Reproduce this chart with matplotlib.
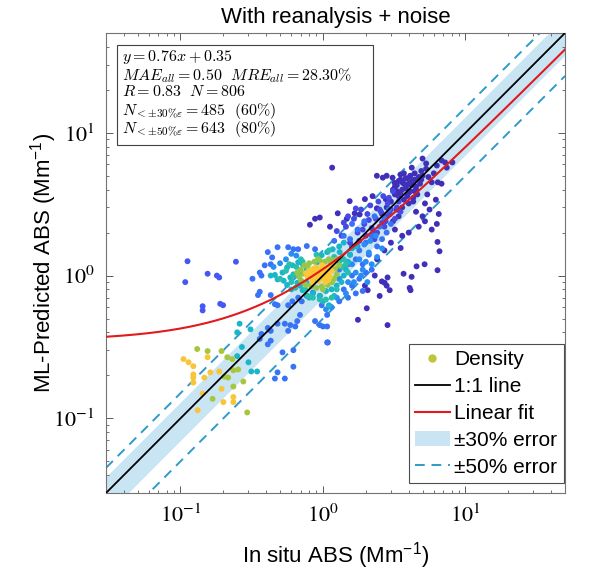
import numpy as np
import matplotlib
matplotlib.use("Agg")
import matplotlib.pyplot as plt
from matplotlib.colors import LinearSegmentedColormap
from matplotlib.lines import Line2D
from matplotlib.patches import Patch, Rectangle
from matplotlib.ticker import LogLocator, NullFormatter

plt.rcParams['font.family'] = ['Liberation Sans', 'DejaVu Sans']
plt.rcParams['mathtext.fontset'] = 'custom'
plt.rcParams['mathtext.rm'] = 'Liberation Sans'
plt.rcParams['mathtext.it'] = 'Liberation Sans:italic'
plt.rcParams['mathtext.bf'] = 'Liberation Sans:bold'

# ---- data (in situ x, predicted y), grouped by density colour ----
core_x = [0.78, 0.82, 0.85, 0.88, 0.90, 0.92, 0.95, 0.97, 1.00, 1.02, 1.05, 1.08, 1.10, 1.12, 0.86,
          0.93, 0.99, 1.04, 0.80, 0.90, 1.15, 0.96, 1.06, 0.84, 1.00, 0.89, 1.09, 0.94, 1.18, 0.76]
core_y = [0.98, 1.02, 0.95, 1.05, 0.99, 1.08, 1.00, 1.10, 1.03, 0.95, 1.12, 1.05, 1.15, 0.98, 1.12,
          0.92, 1.18, 0.90, 1.08, 1.14, 1.08, 0.96, 1.00, 0.90, 1.10, 1.00, 0.93, 1.04, 1.20, 1.04]

ring_x = [0.68, 0.70, 0.72, 0.74, 0.76, 0.80, 0.83, 0.87, 0.90, 0.95, 0.98, 1.03, 1.08, 1.13,
          1.20, 1.22, 1.26, 1.16, 0.66, 0.73, 1.30, 1.25, 1.10, 0.78, 0.70, 1.18, 0.92, 1.00]
ring_y = [0.98, 1.10, 0.90, 1.18, 0.86, 1.22, 0.84, 1.25, 0.82, 1.28, 0.84, 1.25, 0.86, 1.22,
          0.95, 1.12, 1.30, 0.90, 1.05, 1.03, 1.18, 1.02, 1.30, 1.15, 0.93, 1.28, 1.30, 0.80]

cyan_x = [0.43, 0.46, 0.48, 0.53, 0.56, 0.59, 0.62, 0.66, 0.69, 0.72, 0.77, 0.85, 0.56, 0.61, 0.67,
          0.72, 0.77, 0.84, 0.91, 0.98, 1.07, 1.17, 1.31, 0.85, 0.95, 1.05, 1.15, 1.25, 1.35, 1.40,
          1.45, 1.50, 1.55, 1.60, 1.30, 1.40, 1.70, 1.20, 1.00, 0.80, 1.10, 0.60, 0.52, 0.26, 0.25,
          0.31, 0.27, 0.30, 0.314, 0.345, 0.25]
cyan_y = [1.00, 1.01, 0.94, 0.92, 0.86, 0.97, 1.02, 0.89, 0.85, 0.79, 0.89, 0.92, 1.14, 1.18, 1.24,
          1.20, 1.10, 1.05, 1.24, 1.39, 1.46, 1.53, 1.46, 0.75, 0.72, 0.78, 0.80, 0.85, 0.90, 1.00,
          1.10, 1.25, 1.40, 1.55, 1.60, 1.70, 1.60, 0.72, 0.66, 0.70, 0.62, 0.80, 1.05, 0.46, 0.40,
          0.42, 0.316, 0.247, 0.213, 0.213, 0.273]

cyan2_x = [0.50, 0.55, 0.60, 0.65, 0.70, 0.75, 0.62, 0.68, 0.58, 0.64, 1.20, 1.30, 1.35, 1.25,
           1.40, 1.15, 1.05, 0.95, 0.85, 0.78, 1.45, 1.50, 1.10, 0.90, 0.72]
cyan2_y = [0.95, 1.08, 0.90, 1.15, 1.30, 0.80, 1.00, 1.05, 1.20, 0.82, 1.35, 1.25, 1.15, 0.80,
           1.30, 0.70, 0.68, 0.68, 0.70, 0.72, 1.20, 1.05, 1.50, 1.40, 1.25]

blue2_x = [1.3, 1.4, 1.5, 1.6, 1.7, 1.8, 1.9, 2.0, 2.1, 2.2, 2.4, 2.6, 1.35, 1.55, 1.75, 1.95,
           2.15, 2.35, 1.45, 1.65, 1.85, 2.05, 1.25, 1.15, 1.05, 0.55, 0.6, 0.65, 0.5, 0.45]
blue2_y = [0.95, 1.15, 0.9, 1.2, 1.05, 1.3, 1.1, 1.25, 1.45, 1.2, 1.35, 1.55, 1.3, 1.4, 1.6, 1.65,
           1.75, 1.9, 0.75, 0.9, 1.0, 0.9, 0.7, 0.6, 0.58, 1.3, 1.42, 1.38, 1.22, 1.15]

blue_x = [0.41, 0.44, 0.48, 0.57, 0.62, 0.67, 0.77, 0.88, 0.37, 0.36, 0.39, 0.43, 0.32, 0.35, 0.36,
          0.43, 0.46, 0.48, 0.57, 0.61, 0.67, 0.71, 0.77, 0.85, 0.95, 0.98, 1.07, 1.12, 0.95, 1.07,
          0.88, 0.69, 0.66, 0.64, 0.59, 0.57, 0.54, 0.48, 0.43, 0.41, 0.37, 0.36, 0.43, 0.41, 0.52,
          0.62, 0.62, 0.54, 0.48, 0.46, 1.07, 1.00,
          1.3, 1.5, 1.6, 1.7, 1.8, 1.9, 2.0, 2.1, 2.2, 2.4, 2.5, 2.6, 2.8, 1.4, 1.6, 1.8, 2.0, 2.2,
          1.5, 1.7, 1.9, 1.3, 1.55, 1.75, 1.95, 2.3, 2.7, 3.0, 2.9, 1.6, 1.4, 1.2]
blue_y = [1.46, 1.34, 1.58, 1.58, 1.53, 1.53, 1.61, 1.53, 1.00, 1.05, 1.18, 1.20, 0.95, 0.73, 0.77,
          0.73, 0.63, 0.62, 0.62, 0.66, 0.70, 0.66, 0.72, 0.76, 0.72, 0.62, 0.53, 0.61, 0.45, 0.44,
          0.48, 0.53, 0.48, 0.44, 0.45, 0.41, 0.46, 0.46, 0.41, 0.43, 0.39, 0.36, 0.35, 0.33, 0.29,
          0.30, 0.23, 0.19, 0.21, 0.19, 0.34, 0.44,
          1.1, 1.2, 1.0, 1.3, 1.5, 1.2, 1.7, 1.4, 1.9, 1.6, 2.2, 1.8, 2.0, 0.8, 0.85, 0.95, 1.05, 1.1,
          0.7, 0.75, 0.78, 0.66, 1.8, 2.1, 2.4, 2.6, 2.5, 2.3, 2.9, 2.3, 1.9, 1.75]

mid_x = [1.35, 1.45, 1.55, 1.65, 1.75, 1.85, 1.95, 2.05, 2.15, 2.25, 2.35, 2.45, 2.55, 2.65, 2.75,
         2.85, 2.95, 3.1, 3.3, 3.5, 1.5, 1.7, 1.9, 2.1, 2.3, 2.5, 2.7, 2.9, 3.2, 3.4,
         1.6, 1.8, 2.0, 2.2, 2.4, 2.6, 2.8, 3.0, 1.4, 1.25]
mid_y = [1.9, 2.2, 1.7, 2.5, 2.0, 2.9, 2.3, 2.7, 3.1, 2.0, 2.5, 3.3, 2.8, 3.6, 2.4,
         3.2, 2.7, 3.9, 3.0, 2.8, 2.6, 2.95, 2.1, 2.45, 1.8, 2.9, 2.2, 3.5, 2.5, 3.3,
         1.6, 1.75, 1.9, 2.15, 2.0, 2.35, 2.6, 2.9, 2.35, 2.05]

out_x = [0.112, 0.245, 0.108, 0.155, 0.18, 0.187, 0.143, 0.143, 0.19, 0.199]
out_y = [1.26, 1.25, 0.90, 1.03, 1.00, 0.97, 0.61, 0.57, 0.634, 0.62]

ind_x = [1.16, 0.81, 0.88, 0.95, 1.12, 1.27, 1.47, 1.54, 1.67, 1.81, 1.97, 2.39, 2.63, 2.80, 3.08,
         2.23, 2.39, 2.76, 3.19, 6.37, 6.58, 6.37, 5.17, 4.54, 4.19, 3.68, 4.06, 4.12, 3.51, 2.94,
         2.84, 2.71, 2.80, 2.59, 2.50, 2.31, 2.03, 1.76, 2.84, 2.06, 1.97, 1.08,
         5.0, 5.3, 4.9, 6.3, 6.8, 7.4, 6.4, 6.8, 4.3, 4.4, 5.2, 5.4,
         3.1, 3.3, 3.5, 3.6, 3.8, 3.9, 4.0, 3.4, 3.7, 4.1, 3.2, 3.5, 3.9, 4.2, 4.5, 4.7, 4.4, 4.8,
         5.0, 4.6, 5.5, 5.8, 6.0, 5.3, 4.2, 3.7, 3.0, 2.8, 2.6, 3.3, 3.6, 4.0, 3.4, 3.1, 5.0, 4.7,
         5.6, 6.2, 6.5,
         4.5, 5.2, 5.8, 6.3, 4.0, 3.6, 3.2, 3.0, 2.7, 2.4, 7.2, 8.1,
         3.2, 3.4, 3.6, 3.8, 4.0, 4.2, 4.4, 3.3, 3.7, 4.1, 4.5, 3.5, 3.9, 4.3, 4.9]
ind_y = [5.7, 2.27, 2.5, 2.55, 2.2, 2.73, 2.5, 3.32, 2.73, 2.68, 3.43, 5.0, 4.85, 5.0, 4.85,
         3.6, 2.96, 3.43, 4.46, 1.72, 1.48, 1.09, 1.2, 1.16, 0.98, 1.03, 0.82, 0.79, 1.56, 0.79,
         0.97, 0.89, 0.85, 0.91, 0.72, 1.0, 0.59, 0.49, 0.45, 0.79, 0.85, 0.34,
         6.6, 6.1, 5.4, 5.9, 6.4, 5.7, 4.5, 4.4, 3.3, 3.9, 3.2, 3.7,
         4.0, 4.3, 3.8, 4.5, 4.1, 3.6, 4.4, 3.6, 3.4, 3.9, 3.7, 4.7, 4.8, 4.6, 4.2, 4.9, 5.2, 4.4,
         5.0, 3.7, 4.9, 4.5, 5.2, 5.6, 5.7, 5.2, 3.3, 3.0, 2.7, 2.9, 3.0, 3.2, 2.6, 2.4, 2.6, 2.2,
         2.9, 3.4, 2.7,
         2.8, 2.4, 2.1, 2.3, 2.0, 1.9, 2.1, 1.7, 1.5, 1.3, 6.2, 6.2,
         4.2, 4.6, 4.0, 4.8, 3.8, 4.3, 4.7, 3.9, 4.4, 5.0, 4.0, 5.1, 4.3, 3.5, 4.7]

lowa_x = [0.105, 0.114, 0.123, 0.123, 0.123, 0.123, 0.147, 0.162, 0.155, 0.187, 0.143, 0.235,
          0.235, 0.200, 0.194, 0.132]
lowa_y = [0.260, 0.247, 0.232, 0.203, 0.193, 0.178, 0.193, 0.210, 0.268, 0.213, 0.149, 0.141,
          0.130, 0.130, 0.161, 0.114]

lowb_x = [0.168, 0.203, 0.216, 0.235, 0.254, 0.235, 0.294, 0.276, 0.131, 0.155, 0.194, 0.213, 0.231]
lowb_y = [0.137, 0.196, 0.193, 0.217, 0.220, 0.167, 0.110, 0.181, 0.306, 0.296, 0.296, 0.268, 0.260]

# colour level (0..1 on the colormap) of each group, drawn low to high
groups = [(ind_x, ind_y, 0.03), (mid_x, mid_y, 0.1), (out_x, out_y, 0.14),
          (blue_x, blue_y, 0.2), (blue2_x, blue2_y, 0.27), (cyan_x, cyan_y, 0.4),
          (cyan2_x, cyan2_y, 0.45), (lowb_x, lowb_y, 0.62), (ring_x, ring_y, 0.6),
          (lowa_x, lowa_y, 0.74), (core_x, core_y, 0.78)]

fit_a, fit_b = 0.76, 0.35
lims = [0.03, 50]

stats_lines = [r'$y = 0.76x + 0.35$',
               r'$MAE_{all} = 0.50\ \ MRE_{all} = 28.30\%$',
               r'$R = 0.83\ \ N = 806$',
               r'$N_{<\pm30\%\varepsilon} = 485\ \ (60\%)$',
               r'$N_{<\pm50\%\varepsilon} = 643\ \ (80\%)$']
stats_base = [0.940, 0.897, 0.862, 0.822, 0.782]

# parula-like colormap
parula = LinearSegmentedColormap.from_list('parula', [
    (0.2422, 0.1504, 0.6603), (0.2810, 0.3228, 0.9579), (0.1786, 0.5289, 0.9682),
    (0.0689, 0.6948, 0.8394), (0.2161, 0.7843, 0.5923), (0.6720, 0.7793, 0.2227),
    (0.9970, 0.7659, 0.2199), (0.9598, 0.8394, 0.1749), (0.9769, 0.9839, 0.0805)])

band_col = '#C9E5F4'
dash_col = '#2E9BCB'

fig = plt.figure(figsize=(5.91, 5.74), dpi=100)
ax = fig.add_axes([106/591, 1-493/574, 459/591, 460/574])
ax.set_xscale('log')
ax.set_yscale('log')

xx = np.logspace(np.log10(lims[0]), np.log10(lims[1]), 300)
ax.fill_between(xx, 0.7*xx, 1.3*xx, color=band_col, lw=0, zorder=1)
ax.plot(xx, 0.5*xx, ls=(0, (5, 3.5)), color=dash_col, lw=1.4, zorder=1.5)
ax.plot(xx, 1.5*xx, ls=(0, (5, 3.5)), color=dash_col, lw=1.4, zorder=1.5)

for gx, gy, lev in groups:
    ax.scatter(gx, gy, s=18, color=parula(lev), edgecolors='none', zorder=2)

ax.plot(xx, xx, color='k', lw=1.3, zorder=3)
ax.plot(xx, fit_a*xx + fit_b, color='#E31A1C', lw=1.5, zorder=3)

ax.set_xlim(lims)
ax.set_ylim(lims)

for axis in (ax.xaxis, ax.yaxis):
    axis.set_minor_locator(LogLocator(base=10, subs=np.arange(2, 10), numticks=20))
    axis.set_minor_formatter(NullFormatter())
ax.set_xticks([0.1, 1, 10])
ax.set_yticks([0.1, 1, 10])
ax.set_xticklabels([r'$10^{-1}$', r'$10^{0}$', r'$10^{1}$'])
ax.set_yticklabels([r'$10^{-1}$', r'$10^{0}$', r'$10^{1}$'])
for lbl in ax.get_xticklabels() + ax.get_yticklabels():
    lbl.set_math_fontfamily('stix')
    lbl.set_fontsize(16)
ax.tick_params(which='both', direction='in', top=True, right=True, color='0.35')
ax.tick_params(which='major', length=5, width=0.7, pad=8)
ax.tick_params(which='minor', length=2.5, width=0.6)
for sp in ax.spines.values():
    sp.set_color('0.45')
    sp.set_linewidth(0.8)

ax.set_title('With reanalysis + noise', fontsize=16, pad=7)
ax.set_xlabel(r'In situ ABS (Mm$^{-1}$)', fontsize=16, labelpad=10)
ax.set_ylabel(r'ML-Predicted ABS (Mm$^{-1}$)', fontsize=16, labelpad=-4)

# statistics box
ax.add_patch(Rectangle((0.024, 0.757), 0.558, 0.217, transform=ax.transAxes,
                       facecolor='white', edgecolor='0.25', lw=0.8, zorder=5))
for txt, ypos in zip(stats_lines, stats_base):
    ax.text(0.034, ypos, txt, transform=ax.transAxes, fontsize=11.5, va='baseline',
            math_fontfamily='cm', zorder=6)

handles = [Line2D([], [], marker='o', ls='none', color=parula(0.65), markersize=5),
           Line2D([], [], color='k', lw=1.3),
           Line2D([], [], color='#E31A1C', lw=1.5),
           Patch(facecolor=band_col, edgecolor='none'),
           Line2D([], [], color=dash_col, lw=1.4, ls=(0, (5, 3.5)))]
labels = ['Density', '1:1 line', 'Linear fit', '\u00b130% error', '\u00b150% error']
leg = ax.legend(handles, labels, loc='lower right', bbox_to_anchor=(0.997, 0.022),
                borderaxespad=0, fontsize=15, handlelength=1.7, handletextpad=0.2,
                labelspacing=0.38, borderpad=0.3, fancybox=False, framealpha=1)
leg.get_frame().set_edgecolor('0.3')
leg.get_frame().set_linewidth(0.8)
leg.set_zorder(6)

fig.savefig('out.png', dpi=100)
